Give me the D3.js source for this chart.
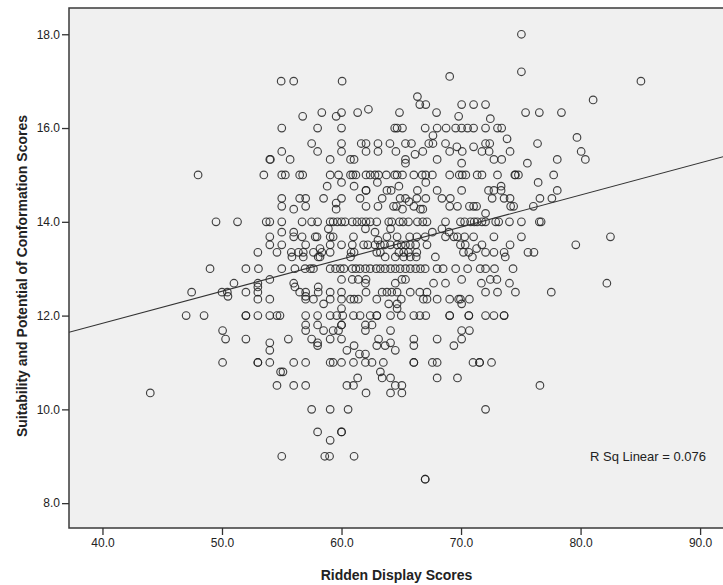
<!DOCTYPE html>
<html>
<head>
<meta charset="utf-8">
<script src="https://cdn.jsdelivr.net/npm/d3@7"></script>
<style>
  body { margin: 0; background: #fff; }
  svg text { font-family: "Liberation Sans", Arial, sans-serif; fill: #222; }
</style>
</head>
<body>
<svg id="scatter"></svg>
<script>
// Suitability score levels (y) and the ridden display scores (x) read at each level
var suitLevels = [18.0, 17.2, 17.1, 17.0, 16.67, 16.6, 16.5, 16.4, 16.33, 16.25, 16.2, 16.0,
  15.84, 15.8, 15.77, 15.67, 15.6, 15.5, 15.44, 15.33, 15.25, 15.0, 14.84, 14.76, 14.67, 14.5,
  14.43, 14.4, 14.33, 14.27, 14.18, 14.0, 13.85, 13.78, 13.68, 13.61, 13.51, 13.43, 13.35, 13.25,
  13.0, 12.77, 12.69, 12.61, 12.5, 12.41, 12.35, 12.25, 12.15, 12.0, 11.8, 11.68, 11.5, 11.42,
  11.36, 11.26, 11.18, 11.0, 10.8, 10.67, 10.51, 10.35, 10.0, 9.52, 9.34, 9.0, 8.51];

var riddenByLevel = [
  [75.05],
  [75.05],
  [69.05],
  [54.95, 56.0, 60.05, 85.05],
  [66.35],
  [81.05],
  [66.55, 67.05, 70.05, 71.05, 72.05],
  [62.25],
  [58.35, 60.0, 61.35, 64.85, 67.95, 75.4, 76.55, 78.4],
  [56.75, 59.55, 69.8],
  [72.45],
  [55.0, 58.0, 60.0, 64.45, 64.65, 65.1, 67.0, 68.0, 68.75, 69.55, 70.05, 70.55, 71.05, 72.05, 73.05, 73.4],
  [67.65],
  [79.7],
  [73.85],
  [57.5, 60.0, 61.65, 62.05, 63.05, 64.05, 65.35, 65.85, 67.3, 67.65, 68.7, 72.05, 72.4, 76.4],
  [69.65, 71.05],
  [55.0, 58.0, 60.0, 62.05, 63.05, 64.55, 66.8, 69.05, 70.1, 71.75, 72.35, 74.1, 80.05],
  [66.15],
  [54.0, 54.05, 55.7, 59.05, 60.75, 61.05, 65.35, 68.0, 72.75, 73.4, 78.05, 80.4],
  [65.35, 70.05, 75.55],
  [48.0, 53.5, 55.0, 55.3, 56.5, 56.75, 59.05, 59.75, 60.75, 60.95, 61.2, 62.05, 62.4, 62.8, 63.1,
   63.75, 64.45, 64.65, 65.1, 66.05, 66.75, 67.05, 67.6, 69.05, 69.85, 70.1, 70.4, 71.35, 71.75,
   73.05, 74.5, 74.55, 74.8, 77.75],
  [60.0, 63.0, 67.05, 76.45],
  [58.8, 61.05, 64.8, 73.35],
  [62.05, 62.05, 63.8, 64.15, 66.35, 68.0, 70.05, 72.3, 72.75, 73.35, 78.05],
  [55.0, 56.5, 57.0, 58.5, 60.0, 61.55, 63.4, 64.9, 65.35, 66.3, 67.05, 68.4, 69.1, 72.6, 73.6,
   74.1, 76.6, 77.6],
  [65.65],
  [59.55],
  [55.0, 57.0, 62.05, 63.05, 64.35, 64.6, 66.05, 69.05, 69.7, 70.7, 71.05, 71.3, 74.15, 74.4, 76.05],
  [56.0, 59.55, 65.1, 66.6, 66.8],
  [72.05],
  [49.5, 51.3, 53.7, 54.0, 55.0, 56.7, 57.5, 58.0, 59.05, 59.3, 59.65, 60.0, 60.3, 60.9, 61.3,
   61.7, 62.05, 62.4, 62.95, 63.95, 64.2, 64.85, 65.15, 65.6, 66.35, 66.8, 67.15, 68.7, 69.95,
   70.3, 70.8, 71.1, 71.35, 71.75, 72.05, 72.9, 73.15, 74.05, 75.05, 76.55, 76.7],
  [58.9, 62.0, 64.1, 68.4],
  [55.0, 56.0, 62.8, 67.6, 69.0],
  [54.0, 56.0, 56.7, 57.8, 57.95, 59.05, 59.3, 61.0, 63.8, 64.65, 65.7, 66.3, 67.0, 68.7, 69.4,
   69.7, 70.3, 71.05, 72.75, 75.05, 82.5],
  [63.05],
  [54.0, 55.0, 57.0, 59.05, 60.0, 60.9, 61.85, 62.2, 62.8, 63.25, 63.6, 64.1, 64.65, 65.0, 65.35,
   65.75, 66.2, 67.15, 69.95, 70.35, 71.75, 74.1, 79.6],
  [58.2, 71.3],
  [53.0, 54.6, 55.8, 56.4, 56.8, 57.65, 58.35, 59.05, 60.8, 61.05, 62.95, 63.25, 64.8, 65.2, 65.6,
   66.3, 70.2, 70.65, 72.05, 72.75, 73.6, 75.6, 76.1],
  [55.85, 56.8, 58.05, 58.2, 60.75, 63.65, 64.5, 65.2, 65.75, 66.25, 67.85, 70.95, 73.7],
  [49.0, 52.0, 53.05, 55.0, 56.1, 56.95, 57.4, 57.65, 59.05, 59.5, 59.9, 60.2, 60.9, 61.2, 61.55,
   62.0, 62.4, 62.9, 63.25, 63.65, 64.1, 64.5, 64.9, 65.35, 65.75, 66.2, 66.6, 67.0, 68.0, 68.5,
   69.55, 70.55, 71.6, 72.05, 72.8, 74.35],
  [54.0, 60.0, 60.9, 61.4, 62.05, 65.05, 65.35, 70.05, 72.45, 73.0],
  [51.0, 53.0, 56.0, 62.0, 64.5, 67.7, 68.7, 71.7, 74.05, 82.2],
  [53.0, 56.1, 58.05],
  [47.46, 50.0, 50.45, 52.0, 53.0, 56.5, 57.0, 58.05, 59.05, 60.0, 62.05, 63.4, 63.8, 64.2, 64.65,
   65.75, 66.55, 67.15, 72.05, 73.05, 74.55, 77.55],
  [50.5, 57.0],
  [53.0, 54.0, 57.0, 57.65, 59.05, 60.0, 60.75, 61.05, 61.4, 62.95, 65.0, 66.85, 67.15, 68.0,
   69.05, 69.8, 69.95, 70.7],
  [58.5, 63.95, 64.65, 70.05],
  [60.0, 64.65],
  [47.0, 48.5, 52.0, 52.0, 53.0, 54.0, 54.6, 54.85, 57.0, 58.0, 59.05, 59.6, 60.1, 61.0, 61.55,
   62.4, 62.95, 62.95, 64.1, 65.0, 66.05, 66.55, 67.05, 69.05, 69.05, 70.65, 70.65, 72.05, 72.75,
   73.6, 73.6],
  [57.0, 58.0, 60.0, 60.0, 62.0, 62.55],
  [50.05, 57.0, 58.5, 59.3, 59.75, 62.0, 64.1, 70.05, 70.7],
  [50.3, 52.0, 55.55, 57.5, 59.05, 60.0, 63.1, 66.05, 68.0, 70.05],
  [54.0, 58.0, 64.1],
  [58.0, 61.05, 62.95, 63.65, 66.05, 69.4],
  [54.0, 60.45, 64.5],
  [61.5, 62.0],
  [50.05, 53.0, 53.0, 54.0, 56.0, 57.0, 59.05, 59.3, 60.0, 61.0, 62.0, 62.55, 63.5, 66.05, 66.05,
   67.6, 68.0, 71.0, 71.55, 71.55, 72.55],
  [54.9, 55.1, 63.25],
  [61.35, 63.4, 64.1, 68.0, 69.7],
  [54.6, 56.0, 57.0, 60.45, 61.0, 64.5, 65.05, 76.6],
  [44.0, 62.05, 64.1, 65.05],
  [57.5, 59.05, 60.55, 72.05],
  [58.0, 60.0, 60.0],
  [59.05],
  [55.0, 58.6, 59.0, 61.05],
  [67.0, 67.0]
];

var xTickValues = [40, 50, 60, 70, 80, 90];
var yTickValues = [8, 10, 12, 14, 16, 18];

// Linear fit as printed by the chart
var fitIntercept = 9.10;
var fitSlope = 0.0684;
var rSqText = "R Sq Linear = 0.076";

var xTitle = "Ridden Display Scores";
var yTitle = "Suitability and Potential of Conformation Scores";

//flatten rows into points
var points = [];
suitLevels.forEach(function(level, i){
  riddenByLevel[i].forEach(function(x){
    points.push({x: x, y: level});
  });
});

var screen = {width: 723, height: 585};
var margins = {top: 8, bottom: 57, left: 69, right: -1};

var plotWidth = screen.width - margins.left - margins.right;
var plotHeight = screen.height - margins.top - margins.bottom;

var xScale = d3.scaleLinear()
              .domain([37.2, 92.0])
              .range([margins.left, margins.left + plotWidth]);

var yScale = d3.scaleLinear()
              .domain([7.47, 18.56])
              .range([margins.top + plotHeight, margins.top]);

var svg = d3.select("#scatter")
            .attr("width", screen.width)
            .attr("height", screen.height);

svg.append("defs").append("clipPath")
   .attr("id", "plot-clip")
   .append("rect")
   .attr("x", margins.left)
   .attr("y", margins.top)
   .attr("width", plotWidth)
   .attr("height", plotHeight);

svg.append("rect")
   .attr("x", margins.left)
   .attr("y", margins.top)
   .attr("width", plotWidth)
   .attr("height", plotHeight)
   .attr("fill", "#f0f0f0")
   .attr("stroke", "#3a3a3a")
   .attr("stroke-width", 1.5);

var plot = svg.append("g").attr("clip-path", "url(#plot-clip)");

plot.selectAll("circle")
    .data(points)
    .enter()
    .append("circle")
    .attr("cx", function(d){ return xScale(d.x); })
    .attr("cy", function(d){ return yScale(d.y); })
    .attr("r", 3.8)
    .attr("fill", "none")
    .attr("stroke", "#222")
    .attr("stroke-opacity", 0.85)
    .attr("stroke-width", 1.15);

var xEnds = xScale.domain();
plot.append("line")
    .attr("x1", xScale(xEnds[0]))
    .attr("y1", yScale(fitIntercept + fitSlope * xEnds[0]))
    .attr("x2", xScale(xEnds[1]))
    .attr("y2", yScale(fitIntercept + fitSlope * xEnds[1]))
    .attr("stroke", "#333")
    .attr("stroke-width", 1.1);

svg.append("text")
   .attr("x", 590)
   .attr("y", 461)
   .attr("text-anchor", "start")
   .style("font-size", "13px")
   .text(rSqText);

// axes
var xAxis = d3.axisBottom(xScale)
              .tickValues(xTickValues)
              .tickSize(7)
              .tickPadding(3)
              .tickFormat(d3.format(".1f"));

var yAxis = d3.axisLeft(yScale)
              .tickValues(yTickValues)
              .tickSize(7)
              .tickPadding(2)
              .tickFormat(d3.format(".1f"));

var gx = svg.append("g")
            .attr("transform", "translate(0," + (margins.top + plotHeight) + ")")
            .call(xAxis);
var gy = svg.append("g")
            .attr("transform", "translate(" + margins.left + ",0)")
            .call(yAxis);

[gx, gy].forEach(function(g){
  g.select(".domain").remove();
  g.selectAll(".tick line").attr("stroke", "#333").attr("stroke-width", 1.3);
  g.selectAll(".tick text")
   .style("font-size", "12px")
   .style("font-family", "'Liberation Sans', Arial, sans-serif")
   .attr("fill", "#222");
});

svg.append("text")
   .attr("x", margins.left + plotWidth / 2)
   .attr("y", 580)
   .attr("text-anchor", "middle")
   .style("font-size", "14px")
   .style("font-weight", "bold")
   .text(xTitle);

svg.append("text")
   .attr("transform", "translate(27," + 276 + ") rotate(-90)")
   .attr("text-anchor", "middle")
   .style("font-size", "14px")
   .style("font-weight", "bold")
   .text(yTitle);
</script>
</body>
</html>
